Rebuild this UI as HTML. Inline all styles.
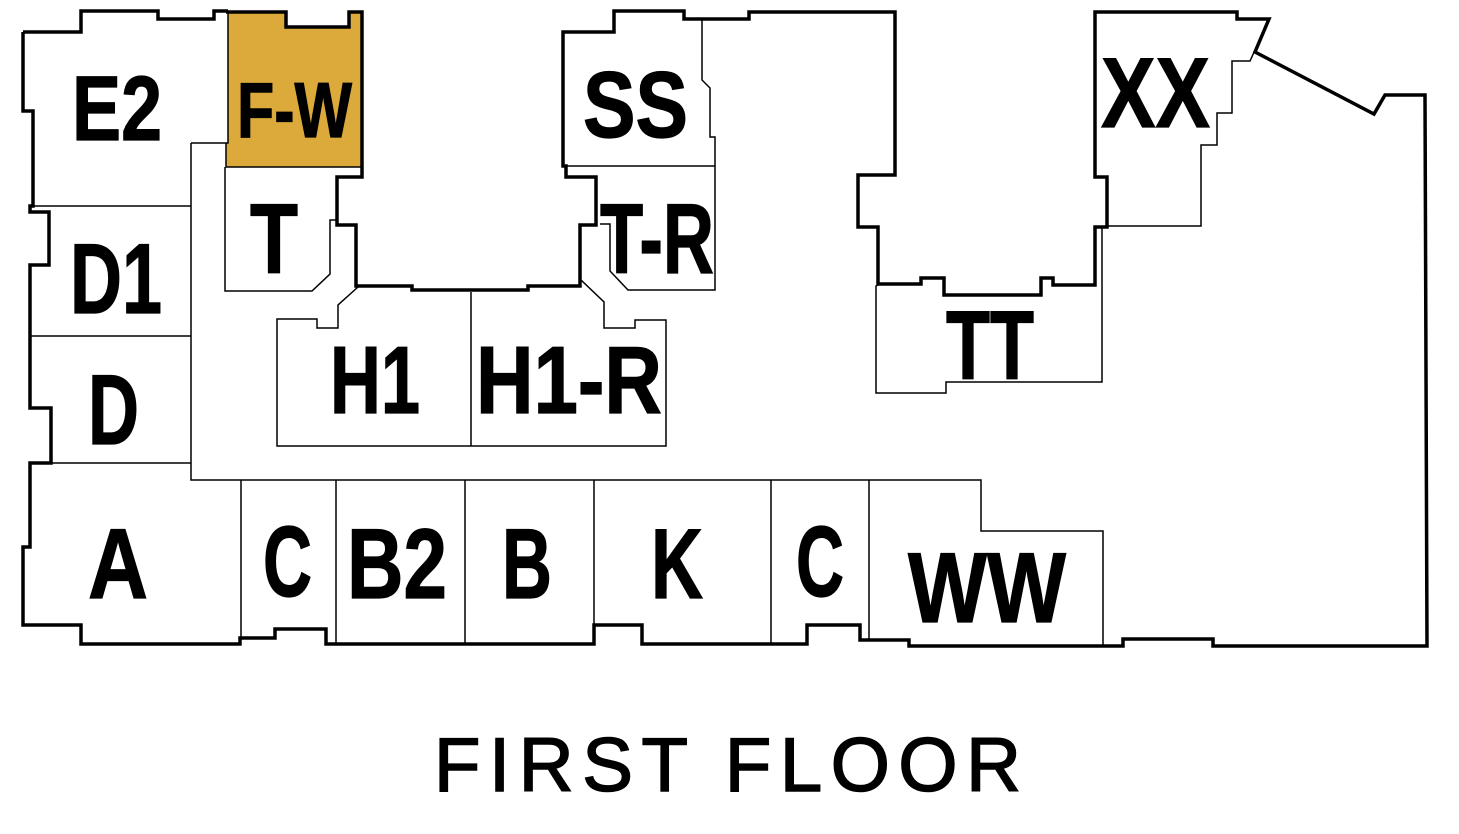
<!DOCTYPE html>
<html><head><meta charset="utf-8"><style>
html,body{margin:0;padding:0;background:#fff;}
svg{display:block;}
.l{font-family:"Liberation Sans Narrow","Liberation Sans",sans-serif;font-weight:bold;fill:#000;stroke:#000;stroke-width:1.2;}
</style></head><body>
<svg width="1459" height="834" viewBox="0 0 1459 834" xmlns="http://www.w3.org/2000/svg">
<polygon points="228,13 286,13 286,27 349,27 349,13 361,13 361,167 226,167 226,143 228,143" fill="#dca93b"/>
<g fill="none" stroke="#000" stroke-width="1.5">
<polyline points="33,206 191,206"/>
<polyline points="191,143 228,143 228,13"/>
<polyline points="226,143 226,167 361,167"/>
<polyline points="191,143 191,480 981,480 981,531 1103,531 1103,645"/>
<polyline points="31,336 191,336"/>
<polyline points="51,463 191,463"/>
<polyline points="225,167 225,291 312,291 330,274 330,220 337,220"/>
<polyline points="358,287 338,305 338,328 317,328 317,319 277,319 277,446 666,446 666,320 635,320 635,328 604,328 604,302 581,280"/>
<polyline points="471,292 471,446"/>
<polyline points="566,166 715,166"/>
<polyline points="702,19 702,80 710,88 710,137 715,137 715,290 628,290 610,271 610,224 600,224"/>
<polyline points="241,480 241,638"/>
<polyline points="336,480 336,644"/>
<polyline points="465,480 465,644"/>
<polyline points="594,480 594,640"/>
<polyline points="771,480 771,644"/>
<polyline points="869,480 869,640"/>
<polyline points="1255,50 1250,61 1232,61 1232,113 1217,113 1217,145 1201,145 1201,226 1107,226"/>
<polyline points="878,285 876,286 876,393 946,393 946,382 1102,382 1102,227"/>
</g>
<g fill="none" stroke="#000" stroke-width="3.5" stroke-linejoin="miter">
<polyline points="23,32 81,32 81,11 158,11 158,19 214,19 214,11 228,11"/>
<polyline points="226,12 286,12 286,27 349,27 349,12 362,12 362,177 337,177 337,225 356,225 356,286 412,286 412,290 528,290 528,286 580,286 580,225 596,225 596,177 566,177 566,166 563,166 563,32 614,32 614,11 684,11 684,19 749,19 749,12 895,12 895,175 858,175 858,227 878,227 878,284 921,284 921,278 944,278 944,295 1041,295 1041,278 1053,278 1053,285 1095,285 1095,227 1107,227 1107,177 1095,177 1095,12 1237,12 1237,19 1269,19 1255,52 1374,114 1385,95 1425,95 1427,646 1213,646 1213,639 1123,639 1123,646 909,646 909,640 860,640 860,625 807,625 807,644 642,644 642,625 594,625 594,644 335,644 326,644 326,629 275,629 275,638 240,638 240,644 81,644 81,625 23,625 23,547 30,547 30,463 51,463 51,408 30,408 30,265 49,265 49,212 30,212 30,206 33,206 33,111 23,111 23,32"/>
</g>
<text class="l" x="72" y="140" font-size="92" textLength="90" lengthAdjust="spacingAndGlyphs">E2</text>
<text class="l" x="237" y="137" font-size="78" textLength="115" lengthAdjust="spacingAndGlyphs">F-W</text>
<text class="l" x="583" y="137" font-size="94" textLength="105" lengthAdjust="spacingAndGlyphs">SS</text>
<text class="l" x="1101" y="127" font-size="99" textLength="109" lengthAdjust="spacingAndGlyphs">XX</text>
<text class="l" x="250" y="273" font-size="99" textLength="48" lengthAdjust="spacingAndGlyphs">T</text>
<text class="l" x="600" y="273" font-size="99" textLength="114" lengthAdjust="spacingAndGlyphs">T-R</text>
<text class="l" x="70" y="313" font-size="99" textLength="92" lengthAdjust="spacingAndGlyphs">D1</text>
<text class="l" x="330" y="413" font-size="96" textLength="90" lengthAdjust="spacingAndGlyphs">H1</text>
<text class="l" x="476" y="413" font-size="96" textLength="186" lengthAdjust="spacingAndGlyphs">H1-R</text>
<text class="l" x="946" y="379" font-size="97" textLength="88" lengthAdjust="spacingAndGlyphs">TT</text>
<text class="l" x="88" y="444" font-size="99" textLength="51" lengthAdjust="spacingAndGlyphs">D</text>
<text class="l" x="88" y="598" font-size="99" textLength="60" lengthAdjust="spacingAndGlyphs">A</text>
<text class="l" x="263" y="596" font-size="100" textLength="49" lengthAdjust="spacingAndGlyphs">C</text>
<text class="l" x="347" y="598" font-size="99" textLength="100" lengthAdjust="spacingAndGlyphs">B2</text>
<text class="l" x="502" y="598" font-size="99" textLength="50" lengthAdjust="spacingAndGlyphs">B</text>
<text class="l" x="651" y="598" font-size="99" textLength="52" lengthAdjust="spacingAndGlyphs">K</text>
<text class="l" x="796" y="596" font-size="100" textLength="48" lengthAdjust="spacingAndGlyphs">C</text>
<text class="l" x="908" y="622" font-size="99" textLength="158" lengthAdjust="spacingAndGlyphs">WW</text>
<text x="434" y="791" font-family="Liberation Sans, sans-serif" font-size="76" fill="#000" stroke="#000" stroke-width="1.6" textLength="587" lengthAdjust="spacing">FIRST FLOOR</text>
</svg>
</body></html>
